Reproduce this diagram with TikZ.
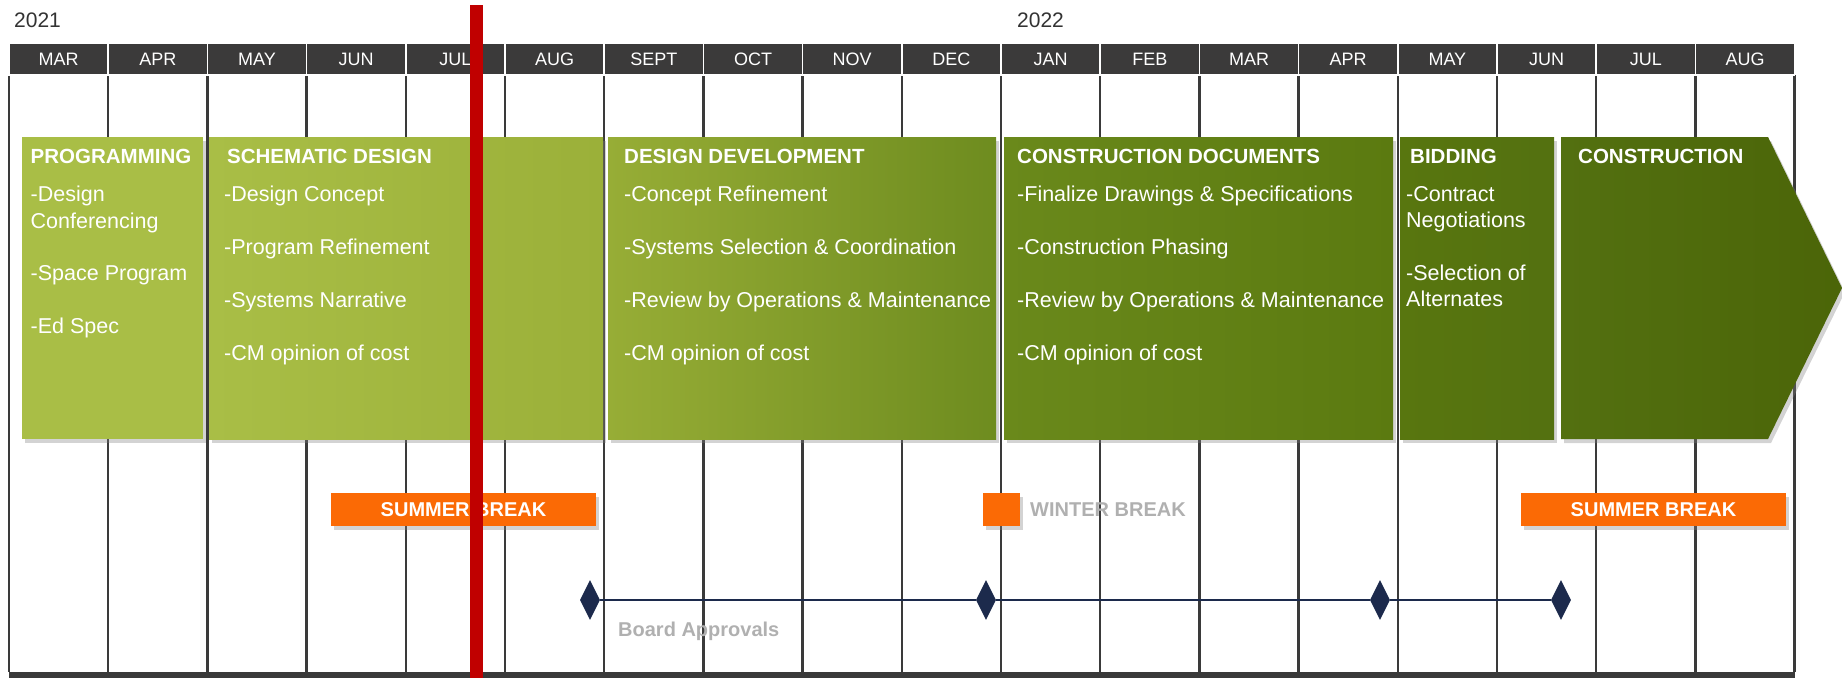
\documentclass[tikz,border=0pt]{standalone}
\usepackage{fontspec}
\setmainfont{Liberation Sans}
\usetikzlibrary{shadows,shapes.geometric}

\definecolor{hdrgray}{HTML}{3B3A3A}
\definecolor{gridgray}{HTML}{3A3A3A}
\definecolor{yeargray}{HTML}{333333}
\definecolor{nowred}{HTML}{C00000}
\definecolor{brkorange}{HTML}{FB6A05}
\definecolor{labelgray}{HTML}{B0B0B0}
\definecolor{boardnavy}{HTML}{1C2A4C}
\definecolor{greenA}{HTML}{A9BE46}
\definecolor{greenB}{HTML}{9BB039}
\definecolor{greenC}{HTML}{97AD36}
\definecolor{greenD}{HTML}{6E8C1F}
\definecolor{greenE}{HTML}{6A891B}
\definecolor{greenF}{HTML}{5B7A10}
\definecolor{greenG}{HTML}{58760F}
\definecolor{greenH}{HTML}{537010}
\definecolor{greenI}{HTML}{4B6508}

\tikzset{
  month/.style={fill=hdrgray,draw=white,line width=1.5pt,minimum width=99.2pt,minimum height=32pt,
    inner sep=0pt,text=white,font=\fontsize{18}{20}\selectfont},
  gridline/.style={draw=gridgray,line width=2.3pt},
  boxshadow/.style={drop shadow={shadow xshift=3pt,shadow yshift=-4pt,opacity=0.35}},
  phase/.style={anchor=north west,inner sep=0pt,minimum height=302pt,boxshadow},
  phtitle/.style={anchor=base west,inner sep=0pt,text=white,font=\bfseries\fontsize{20.5}{24}\selectfont},
  phtext/.style={anchor=north west,inner sep=0pt,align=left,text=white,font=\fontsize{21.5}{26.4}\selectfont},
  brk/.style={fill=brkorange,inner sep=0pt,minimum height=33pt,text=white,
    font=\bfseries\fontsize{20}{24}\selectfont,boxshadow},
  milestone/.style={diamond,fill=boardnavy,inner sep=0pt,minimum width=20pt,minimum height=40pt},
  greylabel/.style={anchor=west,inner sep=0pt,text=labelgray,font=\bfseries\fontsize{20}{24}\selectfont},
}

\begin{document}
\begin{tikzpicture}[x=1pt,y=-1pt]
\useasboundingbox (0,0) rectangle (1842,678);

% years
\node[anchor=base west,inner sep=0pt,text=yeargray,font=\fontsize{21}{24}\selectfont] (y2021) at (14,27.5) {2021};
\node[anchor=base west,inner sep=0pt,text=yeargray,font=\fontsize{21}{24}\selectfont] (y2022) at (1017,27.5) {2022};

% grid
\foreach \i in {0,...,18}
  \draw[gridline] ({9+99.2*\i},75) -- ({9+99.2*\i},672);
\fill[gridgray] (9,672) rectangle (1795,678);

% month header
\foreach \m [count=\i from 0] in {MAR,APR,MAY,JUN,JUL,AUG,SEPT,OCT,NOV,DEC,JAN,FEB,MAR,APR,MAY,JUN,JUL,AUG}
  \node[month] (m\i) at ({9+99.2*\i+49.6},59) {\m};

% phases
\node[phase,minimum width=181pt,fill=greenA] (prog) at (22,137) {};
\node[phase,minimum width=394pt,left color=greenA,right color=greenB] (sd) at (209,137) {};
\node[phase,minimum width=388pt,left color=greenC,right color=greenD] (dd) at (608,137) {};
\node[phase,minimum width=389pt,left color=greenE,right color=greenF] (cd) at (1004,137) {};
\node[phase,minimum width=154pt,left color=greenG,right color=greenH!90!greenG] (bid) at (1400,137) {};
\path[boxshadow,left color=greenH,right color=greenI]
  (1561,137) -- (1768,137) -- (1842,288) -- (1768,439) -- (1561,439) -- cycle;

\node[phtitle] (progT) at (30.5,163.5) {PROGRAMMING};
\node[phtitle] (sdT) at (227,163.5) {SCHEMATIC DESIGN};
\node[phtitle] (ddT) at (624,163.5) {DESIGN DEVELOPMENT};
\node[phtitle] (cdT) at (1017,163.5) {CONSTRUCTION DOCUMENTS};
\node[phtitle] (bidT) at (1410,163.5) {BIDDING};
\node[phtitle] (conT) at (1578,163.5) {CONSTRUCTION};

\node[phtext] (progL) at (30.5,186) {-Design\\Conferencing\\[26.4pt]-Space Program\\[26.4pt]-Ed Spec};
\node[phtext] (sdL) at (224,186) {-Design Concept\\[26.4pt]-Program Refinement\\[26.4pt]-Systems Narrative\\[26.4pt]-CM opinion of cost};
\node[phtext] (ddL) at (624,186) {-Concept Refinement\\[26.4pt]-Systems Selection \& Coordination\\[26.4pt]-Review by Operations \& Maintenance\\[26.4pt]-CM opinion of cost};
\node[phtext] (cdL) at (1017,186) {-Finalize Drawings \& Specifications\\[26.4pt]-Construction Phasing\\[26.4pt]-Review by Operations \& Maintenance\\[26.4pt]-CM opinion of cost};
\node[phtext] (bidL) at (1406,186) {-Contract\\Negotiations\\[26.4pt]-Selection of\\Alternates};

% breaks
\node[brk,minimum width=265pt] (sb1) at (463.5,509.5) {SUMMER BREAK};
\node[brk,minimum width=37pt] (wb) at (1001.5,509.5) {};
\node[greylabel] (wbL) at (1030,509.5) {WINTER BREAK};
\node[brk,minimum width=265pt] (sb2) at (1653.5,509.5) {SUMMER BREAK};

% board approvals
\node[milestone] (ba1) at (590,600) {};
\node[milestone] (ba2) at (986,600) {};
\node[milestone] (ba3) at (1380,600) {};
\node[milestone] (ba4) at (1561,600) {};
\draw[boardnavy,line width=2.2pt] (ba1) -- (ba2) -- (ba3) -- (ba4);
\node[greylabel] (baL) at (618,631) {Board Approvals};

% today
\fill[nowred] (470,5) rectangle (483,678);
\end{tikzpicture}
\end{document}
